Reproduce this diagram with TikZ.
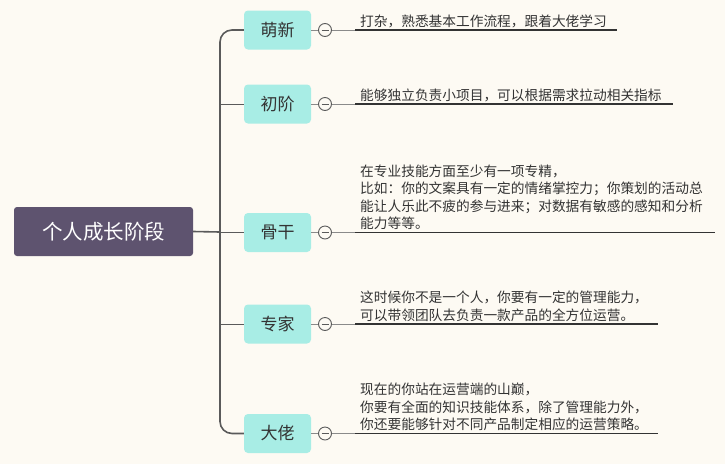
\documentclass[tikz,border=0pt]{standalone}
\usepackage{fontspec}
\setmainfont{Noto Sans CJK SC}
\definecolor{bg}{HTML}{FDFAF3}
\definecolor{rootfill}{HTML}{5E536F}
\definecolor{kidfill}{HTML}{A8EDE5}
\definecolor{ink}{HTML}{333333}
\definecolor{trunkc}{HTML}{5A5A5A}
\definecolor{linkc}{HTML}{8A8A8A}
\tikzset{
  rootbox/.style={fill=rootfill, rounded corners=3pt, minimum width=179pt, minimum height=49pt, inner sep=0pt, text=white, font=\fontsize{20.5}{24}\selectfont},
  kidbox/.style={fill=kidfill, rounded corners=4pt, minimum width=67pt, minimum height=39pt, inner sep=0pt, text=ink, font=\fontsize{17}{20}\selectfont},
  knob/.style={circle, draw=trunkc, line width=0.9pt, fill=bg, minimum size=13pt, inner sep=0pt},
  desc/.style={anchor=south west, inner sep=0pt, align=left, text depth=0pt, text=ink, font=\fontsize{13.7}{17.5}\selectfont},
  trunkline/.style={draw=trunkc, line width=1.6pt},
  branch/.style={draw=trunkc, line width=1pt},
  link/.style={draw=linkc, line width=1pt},
  uline/.style={draw=ink, line width=1.5pt},
}
\begin{document}
\begin{tikzpicture}[x=1pt,y=-1pt]
\fill[bg] (0,0) rectangle (725,464);
\useasboundingbox (0,0) rectangle (725,464);

\node[rootbox] (root) at (103.5,231.5) {个人成长阶段};
\coordinate (trunk) at (220,232);

\node[kidbox] (m1) at (277.5,30) {萌新};
\node[kidbox] (m2) at (277.5,104) {初阶};
\node[kidbox] (m3) at (277.5,232.5) {骨干};
\node[kidbox] (m4) at (277.5,324) {专家};
\node[kidbox] (m5) at (277.5,433.5) {大佬};

% trunk
\draw[trunkline] (root.east) -- (trunk);
\draw[trunkline, rounded corners=12pt] (m1.west) -| (m5.west -| trunk) -- (m5.west);
\draw[branch] (trunk |- m2.west) -- (m2.west);
\draw[branch] (trunk |- m3.west) -- (m3.west);
\draw[branch] (trunk |- m4.west) -- (m4.west);

% knobs
\foreach \i/\y in {1/30,2/104,3/232.5,4/324,5/433.5}{
  \node[knob] (k\i) at (325,\y) {};
  \draw[trunkc, line width=0.9pt] ([xshift=-3.5pt]k\i.center) -- ([xshift=3.5pt]k\i.center);
  \draw[link] (m\i.east) -- (k\i.west);
  \coordinate (s\i) at (355,\y);
  \draw[link] (k\i.east) -- (s\i);
}

\coordinate (e1) at (617,30);
\coordinate (e2) at (673,104);
\coordinate (e3) at (715,232.5);
\coordinate (e4) at (658,324);
\coordinate (e5) at (658,433.5);
\foreach \i in {1,...,5}{ \draw[uline] (s\i) -- (e\i); }

\node[desc] (t1) at (360,26.5) {打杂，熟悉基本工作流程，跟着大佬学习};
\node[desc] (t2) at (360,100.5) {能够独立负责小项目，可以根据需求拉动相关指标};
\node[desc] (t3) at (360,229) {在专业技能方面至少有一项专精，\\比如：你的文案具有一定的情绪掌控力；你策划的活动总\\能让人乐此不疲的参与进来；对数据有敏感的感知和分析\\能力等等。};
\node[desc] (t4) at (360,320.5) {这时候你不是一个人，你要有一定的管理能力，\\可以带领团队去负责一款产品的全方位运营。};
\node[desc] (t5) at (360,430) {现在的你站在运营端的山巅，\\你要有全面的知识技能体系，除了管理能力外，\\你还要能够针对不同产品制定相应的运营策略。};
\end{tikzpicture}
\end{document}
